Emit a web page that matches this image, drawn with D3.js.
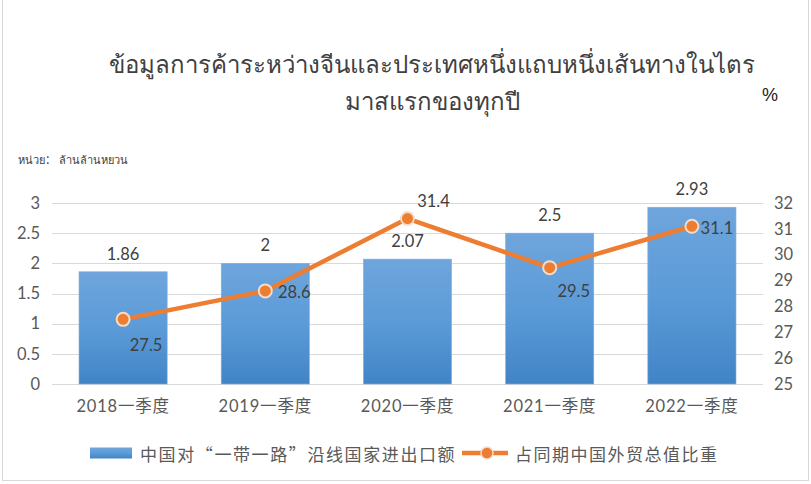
<!DOCTYPE html>
<html><head><meta charset="utf-8">
<script src="https://cdn.jsdelivr.net/npm/d3@7/dist/d3.min.js"></script>
<style>
body{margin:0;background:#fff;}
svg{display:block;font-family:Lato,"Noto Sans CJK SC",sans-serif;}
</style></head>
<body>
<svg id="c" width="811" height="484"></svg>
<script>
const categories = ["2018一季度","2019一季度","2020一季度","2021一季度","2022一季度"];
const tradeValues = [1.86, 2, 2.07, 2.5, 2.93];
const shareValues = [27.5, 28.6, 31.4, 29.5, 31.1];
const leftTicks = [0,0.5,1,1.5,2,2.5,3];
const rightTicks = [25,26,27,28,29,30,31,32];
const titleLines = ["ข้อมูลการค้าระหว่างจีนและประเทศหนึ่งแถบหนึ่งเส้นทางในไตร","มาสแรกของทุกปี"];
const unitText = "หน่วย：  ล้านล้านหยวน";
const legendNames = ["中国对“一带一路”沿线国家进出口额","占同期中国外贸总值比重"];
// label offsets for line data labels (dx, dy) relative to point
const lineLabelOffsets = [[23,26],[29,1],[26,-18],[24,23],[25,2]];

const svg = d3.select("#c");
svg.append("rect").attr("x",2.5).attr("y",-5).attr("width",806).attr("height",485.5)
  .attr("fill","#fff").attr("stroke","#d9d9d9");

const defs = svg.append("defs");
const g = defs.append("linearGradient").attr("id","bg").attr("x1",0).attr("y1",0).attr("x2",0).attr("y2",1);
g.append("stop").attr("offset","0%").attr("stop-color","#6fa5dc");
g.append("stop").attr("offset","50%").attr("stop-color","#5b9bd8");
g.append("stop").attr("offset","100%").attr("stop-color","#4184c6");

const x0=52, x1=763, yTop=203, yBot=384;
const x = d3.scaleBand().domain(categories).range([x0,x1]).paddingInner(0.38).paddingOuter(0.19);
const yL = d3.scaleLinear().domain([0,3]).range([yBot,yTop]);
const yR = d3.scaleLinear().domain([25,32]).range([yBot,yTop]);

// gridlines
svg.append("g").selectAll("line").data(leftTicks).join("line")
  .attr("x1",x0).attr("x2",x1).attr("y1",d=>Math.round(yL(d))+0.5).attr("y2",d=>Math.round(yL(d))+0.5)
  .attr("stroke","#d9d9d9").attr("stroke-width",1.2);

// left axis
const la = svg.append("g").attr("transform",`translate(${x0},0)`)
  .call(d3.axisLeft(yL).tickValues(leftTicks).tickSize(0).tickPadding(12).tickFormat(d3.format("~g")));
la.select(".domain").remove();
la.selectAll("text").attr("font-size",16.5).attr("fill","#595959").attr("font-family","Lato,sans-serif");

// right axis
const ra = svg.append("g").attr("transform",`translate(${x1},0)`)
  .call(d3.axisRight(yR).tickValues(rightTicks).tickSize(0).tickPadding(11).tickFormat(d3.format("~g")));
ra.select(".domain").remove();
ra.selectAll("text").attr("font-size",16.5).attr("fill","#595959").attr("font-family","Lato,sans-serif");

// x axis
const xa = svg.append("g").attr("transform",`translate(0,${yBot})`)
  .call(d3.axisBottom(x).tickSize(0).tickPadding(16));
xa.select(".domain").remove();
xa.selectAll("text").attr("font-size",16.5).attr("fill","#595959").attr("letter-spacing",0.8)
  .attr("font-family","Lato,'Noto Sans CJK SC',sans-serif");

// bars
svg.append("g").selectAll("rect").data(tradeValues).join("rect")
  .attr("x",(d,i)=>x(categories[i])).attr("width",x.bandwidth())
  .attr("y",d=>yL(d)).attr("height",d=>yBot-yL(d))
  .attr("fill","url(#bg)").attr("stroke","#7fb0e0").attr("stroke-width",0.6);

svg.append("g").selectAll("text").data(tradeValues).join("text")
  .attr("x",(d,i)=>x(categories[i])+x.bandwidth()/2).attr("y",d=>yL(d)-12)
  .attr("text-anchor","middle").attr("font-size",16.5).attr("fill","#404040")
  .text(d=>d);

// line
const cx = (i)=>x(categories[i])+x.bandwidth()/2;
const line = d3.line().x((d,i)=>cx(i)).y(d=>yR(d));
svg.append("path").datum(shareValues).attr("d",line).attr("fill","none")
  .attr("stroke","#ed7d31").attr("stroke-width",4.5).attr("stroke-linejoin","round");
svg.append("g").selectAll("circle").data(shareValues).join("circle")
  .attr("cx",(d,i)=>cx(i)).attr("cy",d=>yR(d)).attr("r",6.5)
  .attr("fill","#ed7d31").attr("stroke","#f2dccb").attr("stroke-width",2);
svg.append("g").selectAll("text").data(shareValues).join("text")
  .attr("x",(d,i)=>cx(i)+lineLabelOffsets[i][0]).attr("y",(d,i)=>yR(d)+lineLabelOffsets[i][1])
  .attr("text-anchor","middle").attr("dominant-baseline","central")
  .attr("font-size",16.5).attr("fill","#404040").text(d=>d);

// title
const t = svg.append("text").attr("text-anchor","middle").attr("fill","#404040")
  .attr("font-size",24).attr("font-family","'Noto Sans',sans-serif");
t.append("tspan").attr("x",432).attr("y",73).text(titleLines[0]);
t.append("tspan").attr("x",432).attr("y",110).text(titleLines[1]);
svg.append("text").attr("x",770).attr("y",101).attr("text-anchor","middle")
  .attr("font-size",18).attr("fill","#222").attr("font-family","Liberation Sans,sans-serif").text("%");
svg.append("text").attr("x",18).attr("y",164).attr("font-size",11).attr("fill","#404040").text(unitText);

// legend
const ly=453;
svg.append("rect").attr("x",90).attr("y",ly-5.5).attr("width",42).attr("height",11).attr("fill","url(#bg)");
svg.append("text").attr("x",140).attr("y",ly).attr("dominant-baseline","central").attr("font-size",17)
  .attr("letter-spacing",1.6)
  .attr("fill","#595959").attr("font-family","'Noto Sans CJK SC',sans-serif").text(legendNames[0]);
svg.append("line").attr("x1",462).attr("x2",508).attr("y1",ly).attr("y2",ly).attr("stroke","#ed7d31").attr("stroke-width",4.5);
svg.append("circle").attr("cx",487).attr("cy",ly).attr("r",6).attr("fill","#ed7d31").attr("stroke","#f2dccb").attr("stroke-width",1.5);
svg.append("text").attr("x",515).attr("y",ly).attr("dominant-baseline","central").attr("font-size",17)
  .attr("letter-spacing",1.5)
  .attr("fill","#595959").attr("font-family","'Noto Sans CJK SC',sans-serif").text(legendNames[1]);
</script>
</body></html>
